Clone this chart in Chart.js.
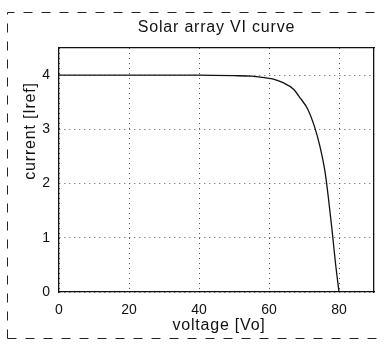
<!DOCTYPE html>
<html>
<head>
<meta charset="utf-8">
<script src="https://cdn.jsdelivr.net/npm/chart.js@4"></script>
<style>
  html, body { margin: 0; padding: 0; background: #fff; }
  #wrap { width: 388px; height: 348px; position: relative; }
</style>
</head>
<body>
<div id="wrap"><canvas id="viChart" width="388" height="348"></canvas></div>
<script>
// solar array VI curve
const voltage = [0, 20, 40, 50, 55, 58, 61, 64, 67, 69, 71, 73, 74.5, 76, 77, 78, 79, 80];
const current = [4.0, 4.0, 4.0, 3.99, 3.98, 3.96, 3.93, 3.86, 3.74, 3.57, 3.38, 3.05, 2.7, 2.22, 1.72, 1.15, 0.53, 0.0];
const xTicks = [0, 20, 40, 60, 80];
const yTicks = [0, 1, 2, 3, 4];
const titleText = "Solar array VI curve";
const xLabel = "voltage [Vo]";
const yLabel = "current [Iref]";

const FONT = "'Liberation Sans', Arial, sans-serif";

// dashed outer frame + title + axis labels, drawn on the canvas
const decor = {
  id: "decor",
  beforeDraw(chart) {
    const c = chart.ctx;
    c.save();
    c.strokeStyle = "#222";
    c.lineWidth = 1;
    c.setLineDash([9, 9]);
    c.beginPath();
    c.moveTo(7.5, 338.5); c.lineTo(7.5, 12.5); c.lineTo(382, 12.5);
    c.moveTo(7.5, 338.5); c.lineTo(382, 338.5);
    c.stroke();
    c.restore();
  },
  afterDraw(chart) {
    const c = chart.ctx, a = chart.chartArea;
    c.save();
    c.fillStyle = "#111";
    c.textAlign = "center";
    c.textBaseline = "middle";
    c.font = "16px " + FONT;
    c.letterSpacing = "0.8px";
    c.fillText(titleText, (a.left + a.right) / 2, 28);
    c.fillText(xLabel, 219, 326);
    c.translate(31, 131);
    c.rotate(-Math.PI / 2);
    c.fillText(yLabel, 0, 0);
    c.restore();
  }
};

const keepOnly = (list) => (scale) => {
  scale.ticks = scale.ticks.filter(t => list.includes(t.value));
};

new Chart(document.getElementById("viChart"), {
  type: "line",
  data: {
    datasets: [{
      data: voltage.map((v, i) => ({ x: v, y: current[i] })),
      borderColor: "#111",
      borderWidth: 1.3,
      pointRadius: 0,
      cubicInterpolationMode: "monotone",
      fill: false
    }]
  },
  options: {
    responsive: false,
    animation: false,
    layout: { padding: { top: 48, right: 14, left: 0, bottom: 0 } },
    plugins: { legend: { display: false }, tooltip: { enabled: false } },
    scales: {
      x: {
        type: "linear",
        min: 0, max: 90,
        ticks: { stepSize: 20, color: "#111", font: { family: FONT, size: 14 }, padding: 10, maxRotation: 0 },
        afterBuildTicks: keepOnly(xTicks),
        afterFit: (s) => { s.height = 56; },
        grid: { color: "#555", drawTicks: false },
        border: { color: "#111", width: 1.3, dash: [1, 4] }
      },
      y: {
        min: 0, max: 4.5,
        ticks: { stepSize: 1, color: "#111", font: { family: FONT, size: 14 }, padding: 9 },
        afterBuildTicks: keepOnly(yTicks),
        afterFit: (s) => { s.width = 59; },
        grid: { color: "#555", drawTicks: false },
        border: { color: "#111", width: 1.3, dash: [1, 4] }
      },
      x2: {
        type: "linear", position: "top", min: 0, max: 90,
        ticks: { display: false }, grid: { display: false, drawTicks: false },
        border: { color: "#111", width: 1.3 },
        afterFit: (s) => { s.height = 0; }
      },
      y2: {
        type: "linear", position: "right", min: 0, max: 4.5,
        ticks: { display: false }, grid: { display: false, drawTicks: false },
        border: { color: "#111", width: 1.3 },
        afterFit: (s) => { s.width = 0; }
      }
    }
  },
  plugins: [decor]
});
</script>
</body>
</html>
